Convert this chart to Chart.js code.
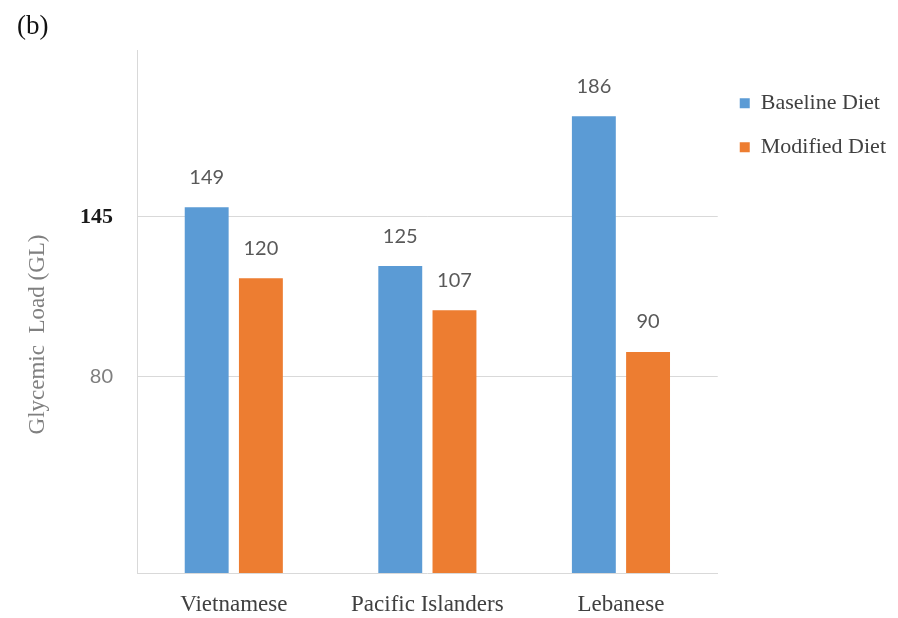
<!DOCTYPE html>
<html>
<head>
<meta charset="utf-8">
<title>Glycemic Load</title>
<script src="https://cdn.jsdelivr.net/npm/chart.js@4/dist/chart.umd.min.js"></script>
<style>
  html, body { margin: 0; padding: 0; background: #fff; }
  #wrap { width: 898px; height: 618px; position: relative; }
</style>
</head>
<body>
<div id="wrap"><canvas id="glChart"></canvas></div>
<script>
// groups and values
var groups = ["Vietnamese", "Pacific Islanders", "Lebanese"];
var baselineDiet = [149, 125, 186];
var modifiedDiet = [120, 107, 90];
var yTicks = [80, 145];

var BLUE = "#5B9BD5";
var ORANGE = "#ED7D31";
var SERIF = "'Liberation Serif', 'DejaVu Serif', serif";

// the 145 label is set darker and heavier than the 80 one
function isTop(c) { return c.tick && c.tick.value === 145; }

// value labels above each bar
var barValues = {
	id: "barValues",
	afterDatasetsDraw: function (chart) {
		var ctx = chart.ctx;
		ctx.save();
		ctx.font = "20px Lato, 'Liberation Sans', sans-serif";
		ctx.fillStyle = "#595959";
		ctx.textAlign = "center";
		ctx.textBaseline = "middle";
		chart.data.datasets.forEach(function (ds, i) {
			chart.getDatasetMeta(i).data.forEach(function (bar, j) {
				ctx.fillText(ds.data[j], bar.x, bar.y - 30);
			});
		});
		ctx.restore();
	}
};

// panel letter in the corner
var panelTag = {
	id: "panelTag",
	afterDraw: function (chart) {
		var ctx = chart.ctx;
		ctx.save();
		ctx.font = "27px " + SERIF;
		ctx.fillStyle = "#111";
		ctx.textAlign = "left";
		ctx.textBaseline = "middle";
		ctx.fillText("(b)", 17, 27);
		ctx.restore();
	}
};

var chartLine = new Chart(document.getElementById("glChart"), {
	type: "bar",
	data: {
		labels: groups,
		datasets: [
			{ label: "Baseline Diet", data: baselineDiet, backgroundColor: BLUE },
			{ label: "Modified Diet", data: modifiedDiet, backgroundColor: ORANGE }
		]
	},
	options: {
		responsive: true,
		maintainAspectRatio: false,
		animation: false,
		categoryPercentage: 0.56,
		barPercentage: 0.81,
		layout: { padding: { top: 50, right: 2, bottom: 0, left: 0 } },
		plugins: {
			tooltip: { enabled: false },
			legend: {
				position: "right",
				align: "start",
				title: { display: true, text: "", padding: { top: 19, bottom: 0 }, font: { size: 1 } },
				labels: {
					boxWidth: 10,
					boxHeight: 10,
					padding: 22,
					color: "#404040",
					font: { family: SERIF, size: 22 }
				}
			}
		},
		scales: {
			x: {
				grid: { display: false, drawTicks: false },
				border: { color: "#d9d9d9" },
				ticks: {
					padding: 18,
					color: "#404040",
					font: { family: SERIF, size: 23 }
				},
				afterFit: function (scale) { scale.height = 45; }
			},
			y: {
				min: 0,
				max: 213,
				afterBuildTicks: function (scale) {
					scale.ticks = yTicks.map(function (v) { return { value: v }; });
				},
				grid: { color: "#d9d9d9", drawTicks: false },
				border: { color: "#d9d9d9" },
				ticks: {
					padding: 24,
					color: function (c) { return isTop(c) ? "#1a1a1a" : "#7f7f7f"; },
					font: function (c) {
						return isTop(c)
							? { family: SERIF, size: 22, weight: "bold" }
							: { family: "Lato, 'Liberation Sans', sans-serif", size: 20 };
					}
				},
				title: {
					display: true,
					// trailing spaces push the centred title down the axis
					text: "Glycemic  Load (GL)        ",
					color: "#808080",
					font: { family: SERIF, size: 23 },
					padding: { top: 24, bottom: 0 }
				},
				afterFit: function (scale) { scale.width = 137; }
			}
		}
	},
	plugins: [barValues, panelTag]
});
</script>
</body>
</html>
